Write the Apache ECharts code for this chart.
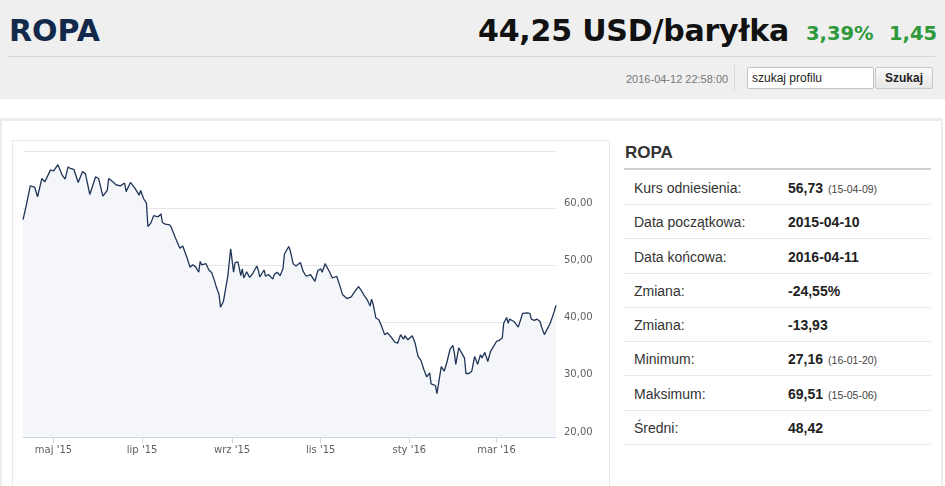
<!DOCTYPE html>
<html><head><meta charset="utf-8">
<script src="https://cdn.jsdelivr.net/npm/echarts@6/dist/echarts.min.js"></script>
<style>
html,body{margin:0;padding:0;width:945px;height:486px;overflow:hidden;background:#fff;font-family:"Liberation Sans",Arial,sans-serif;}
.a{position:absolute;white-space:nowrap;}
#hdr{left:0;top:0;width:945px;height:99px;background:#efefef;}
#hline{left:8px;top:56px;width:927px;height:1px;background:#d6d6d6;}
#title{left:9px;top:14px;height:34px;line-height:34px;font-family:"DejaVu Sans";font-weight:bold;font-size:30px;color:#13294b;}
#price{left:478px;top:14px;height:34px;line-height:34px;font-family:"DejaVu Sans";font-weight:bold;font-size:30px;color:#111;letter-spacing:-0.2px;}
.chg{top:21px;height:26px;line-height:26px;font-family:"DejaVu Sans";font-weight:bold;font-size:19.5px;color:#2e9a3c;}
#stamp{left:626px;top:71px;height:16px;line-height:16px;font-size:11px;color:#777;}
#sep{left:734px;top:65px;width:1px;height:25px;background:#d8d8d8;}
#inp{left:747px;top:67px;width:121px;height:20px;background:#fff;border:1px solid #c4c4c4;border-radius:2px;font-size:12px;line-height:20px;color:#222;padding-left:4px;box-sizing:content-box;}
#btn{left:875px;top:67px;width:56px;height:20px;background:linear-gradient(#f8f8f8,#e8e8e8);border:1px solid #c8c8c8;border-radius:2px;font-size:12px;font-weight:bold;line-height:21px;text-align:center;color:#222;}
#outer{left:0;top:118px;width:939px;height:400px;border-top:3px solid #ececec;border-left:2px solid #ececec;border-right:2px solid #ececec;}
#panel{left:12px;top:140px;width:596px;height:400px;border:1px solid #e8e8e8;}
#chart{position:absolute;left:13px;top:141px;width:595px;height:345px;}
#rtitle{left:625px;top:143px;height:20px;line-height:20px;font-size:17px;font-weight:bold;color:#333;}
#rline{left:624px;top:168px;width:307px;height:2px;background:#cfcfcf;}
.row{left:624px;width:307px;height:33px;border-bottom:1px solid #e8e8e8;}
.lab{position:absolute;left:10px;top:0;height:34px;line-height:34px;font-size:14px;color:#333;}
.val{position:absolute;left:164px;top:0;height:34px;line-height:34px;font-size:14px;font-weight:bold;color:#222;}
.val small{font-size:10.5px;font-weight:normal;color:#444;margin-left:5px;}
</style>
</head><body>
<div id="hdr" class="a"></div>
<div id="hline" class="a"></div>
<div id="title" class="a">ROPA</div>
<div id="price" class="a">44,25 USD/baryłka</div>
<div class="a chg" style="left:806px">3,39%</div>
<div class="a chg" style="left:889px">1,45</div>
<div id="stamp" class="a">2016-04-12 22:58:00</div>
<div id="sep" class="a"></div>
<div id="inp" class="a">szukaj profilu</div>
<div id="btn" class="a">Szukaj</div>
<div id="outer" class="a"></div>
<div id="panel" class="a"></div>
<div id="chart"></div>
<div id="rtitle" class="a">ROPA</div>
<div id="rline" class="a"></div>
<div id="rows"></div>
<script>
// ---- chart data ----
const dates = [
'2015-04-10','2015-04-12','2015-04-15','2015-04-18','2015-04-20','2015-04-23','2015-04-25','2015-04-29',
'2015-05-01','2015-05-04','2015-05-05','2015-05-07','2015-05-09','2015-05-11','2015-05-13','2015-05-15',
'2015-05-18','2015-05-21','2015-05-23','2015-05-26','2015-05-30','2015-06-01','2015-06-04','2015-06-07',
'2015-06-08','2015-06-11','2015-06-13','2015-06-16','2015-06-19','2015-06-20','2015-06-23','2015-06-26',
'2015-06-27','2015-06-29','2015-06-30','2015-07-02','2015-07-04','2015-07-05','2015-07-07','2015-07-09',
'2015-07-12','2015-07-14','2015-07-15','2015-07-17','2015-07-20','2015-07-21','2015-07-24','2015-07-27',
'2015-07-29','2015-07-30','2015-08-01','2015-08-03','2015-08-05','2015-08-07','2015-08-09','2015-08-10',
'2015-08-11','2015-08-14','2015-08-16','2015-08-18','2015-08-20','2015-08-21','2015-08-23','2015-08-24',
'2015-08-26','2015-08-27','2015-08-29','2015-08-31','2015-09-02','2015-09-03','2015-09-05','2015-09-06',
'2015-09-07','2015-09-08','2015-09-09','2015-09-11','2015-09-13','2015-09-15','2015-09-18','2015-09-19',
'2015-09-20','2015-09-23','2015-09-24','2015-09-26','2015-09-29','2015-09-30','2015-10-02','2015-10-04',
'2015-10-06','2015-10-07','2015-10-08','2015-10-10','2015-10-11','2015-10-13','2015-10-15','2015-10-18',
'2015-10-20','2015-10-22','2015-10-25','2015-10-28','2015-10-30','2015-10-31','2015-11-01','2015-11-02',
'2015-11-04','2015-11-07','2015-11-09','2015-11-12','2015-11-14','2015-11-16','2015-11-17','2015-11-19',
'2015-11-22','2015-11-24','2015-11-27','2015-11-29','2015-12-01','2015-12-03','2015-12-05','2015-12-06',
'2015-12-07','2015-12-09','2015-12-11','2015-12-13','2015-12-15','2015-12-17','2015-12-20','2015-12-22',
'2015-12-24','2015-12-26','2015-12-28','2015-12-29','2015-12-31','2016-01-03','2016-01-04','2016-01-05',
'2016-01-07','2016-01-09','2016-01-11','2016-01-13','2016-01-15','2016-01-16','2016-01-19','2016-01-20',
'2016-01-23','2016-01-25','2016-01-27','2016-01-29','2016-01-31','2016-02-01','2016-02-02','2016-02-04',
'2016-02-06','2016-02-08','2016-02-09','2016-02-11','2016-02-13','2016-02-15','2016-02-17','2016-02-19',
'2016-02-20','2016-02-22','2016-02-24','2016-02-26','2016-02-27','2016-03-01','2016-03-03','2016-03-05',
'2016-03-06','2016-03-08','2016-03-09','2016-03-10','2016-03-13','2016-03-14','2016-03-16','2016-03-19',
'2016-03-22','2016-03-24','2016-03-25','2016-03-27','2016-03-29','2016-03-31','2016-04-01','2016-04-03',
'2016-04-05','2016-04-07','2016-04-08','2016-04-10','2016-04-11'
];
const prices = [
58.0,60.2,63.9,63.7,62.0,65.2,64.6,66.7,
66.5,67.6,67.4,65.8,65.1,67.2,66.9,66.8,
64.5,66.4,66.0,62.4,65.5,65.2,62.1,63.1,
65.2,64.6,64.1,63.9,64.4,62.9,64.5,63.5,
63.2,62.3,63.1,61.7,60.9,56.8,57.4,58.7,
58.5,59.0,57.5,57.2,57.1,56.7,54.8,53.0,
53.4,53.3,51.3,49.7,50.1,49.7,48.8,50.7,
50.1,50.3,49.2,48.7,47.2,46.3,44.9,42.7,
43.7,43.8,48.1,52.9,48.8,50.5,50.6,49.4,
48.2,49.4,47.8,48.9,47.9,48.5,49.9,49.2,
48.0,49.2,48.1,48.4,47.6,48.4,48.8,48.2,
49.4,52.0,51.9,53.3,52.6,50.3,49.9,50.5,
48.9,48.1,48.4,47.2,49.1,48.8,49.4,48.8,
50.3,48.9,47.8,48.1,46.6,44.9,45.0,44.2,
44.5,45.3,46.3,45.6,44.7,44.0,42.9,44.1,
43.3,40.8,40.5,39.3,37.9,38.2,37.3,36.6,
36.4,37.9,37.1,37.7,37.0,37.7,37.1,36.4,
34.1,33.4,31.8,30.5,31.2,29.3,29.0,27.6,
32.3,31.5,33.2,35.3,36.0,34.7,32.7,35.6,
34.7,33.8,31.1,31.1,31.5,34.1,32.7,34.4,
33.8,34.8,33.2,35.0,35.4,36.7,36.9,37.3,
39.9,40.9,39.9,40.6,40.2,40.0,39.2,41.6,
41.7,41.6,40.6,40.4,40.6,40.2,39.3,37.9,
38.9,39.9,39.9,42.1,43.0
];
const startDate = '2015-04-10';
const endDate = '2016-04-11';
const tickDates = ['2015-05-01','2015-07-01','2015-09-01','2015-11-01','2016-01-01','2016-03-01'];
const tickLabels = ["maj '15","lip '15","wrz '15","lis '15","sty '16","mar '16"];
const yMin = 20, yMax = 70, yStep = 10;

// ---- side table ----
const rowLabels = ['Kurs odniesienia:','Data początkowa:','Data końcowa:','Zmiana:','Zmiana:','Minimum:','Maksimum:','Średni:'];
const rowValues = ['56,73','2015-04-10','2016-04-11','-24,55%','-13,93','27,16','69,51','48,42'];
const rowNotes  = ['(15-04-09)','','','','','(16-01-20)','(15-05-06)',''];

const rowsEl = document.getElementById('rows');
rowLabels.forEach((l,i)=>{
  const r = document.createElement('div');
  r.className='a row';
  r.style.top = (171 + i*34.25) + 'px';
  r.innerHTML = '<div class="lab">'+l+'</div><div class="val">'+rowValues[i]+(rowNotes[i]?'<small>'+rowNotes[i]+'</small>':'')+'</div>';
  rowsEl.appendChild(r);
});

function ts(s){const p=s.split('-');return Date.UTC(+p[0],+p[1]-1,+p[2]);}
const tickTs = tickDates.map(ts);
const seriesData = dates.map((d,i)=>[ts(d),prices[i]]);

const chart = echarts.init(document.getElementById('chart'));
chart.setOption({
  animation:false,
  grid:{left:10,top:10,right:52,bottom:49},
  xAxis:{
    type:'value', min:ts(startDate), max:ts(endDate), scale:true,
    axisLine:{show:true,lineStyle:{color:'#ccd6eb',width:1}},
    axisTick:{show:true,length:6,lineStyle:{color:'#ccd6eb'},customValues:tickTs},
    axisLabel:{customValues:tickTs,margin:8,fontFamily:'DejaVu Sans',fontSize:10,color:'#606060',
      showMinLabel:true,showMaxLabel:true,
      formatter:function(v){const i=tickTs.indexOf(v);return i>=0?tickLabels[i]:'';}},
    splitLine:{show:false}
  },
  yAxis:{
    type:'value', position:'right', min:yMin, max:yMax, interval:yStep,
    axisLine:{show:false}, axisTick:{show:false},
    splitLine:{lineStyle:{color:'#e6e6e6',width:1}},
    axisLabel:{margin:8,fontFamily:'DejaVu Sans',fontSize:10,color:'#606060',verticalAlign:'bottom',
      formatter:function(v){return v>=yMax?'':v.toFixed(2).replace('.',',');}}
  },
  series:[{
    type:'line', data:seriesData, showSymbol:false, smooth:false,
    lineStyle:{color:'#1f3557',width:1.3},
    areaStyle:{color:'#f5f6f9',origin:'start',opacity:1}
  }]
});
</script>
</body></html>
